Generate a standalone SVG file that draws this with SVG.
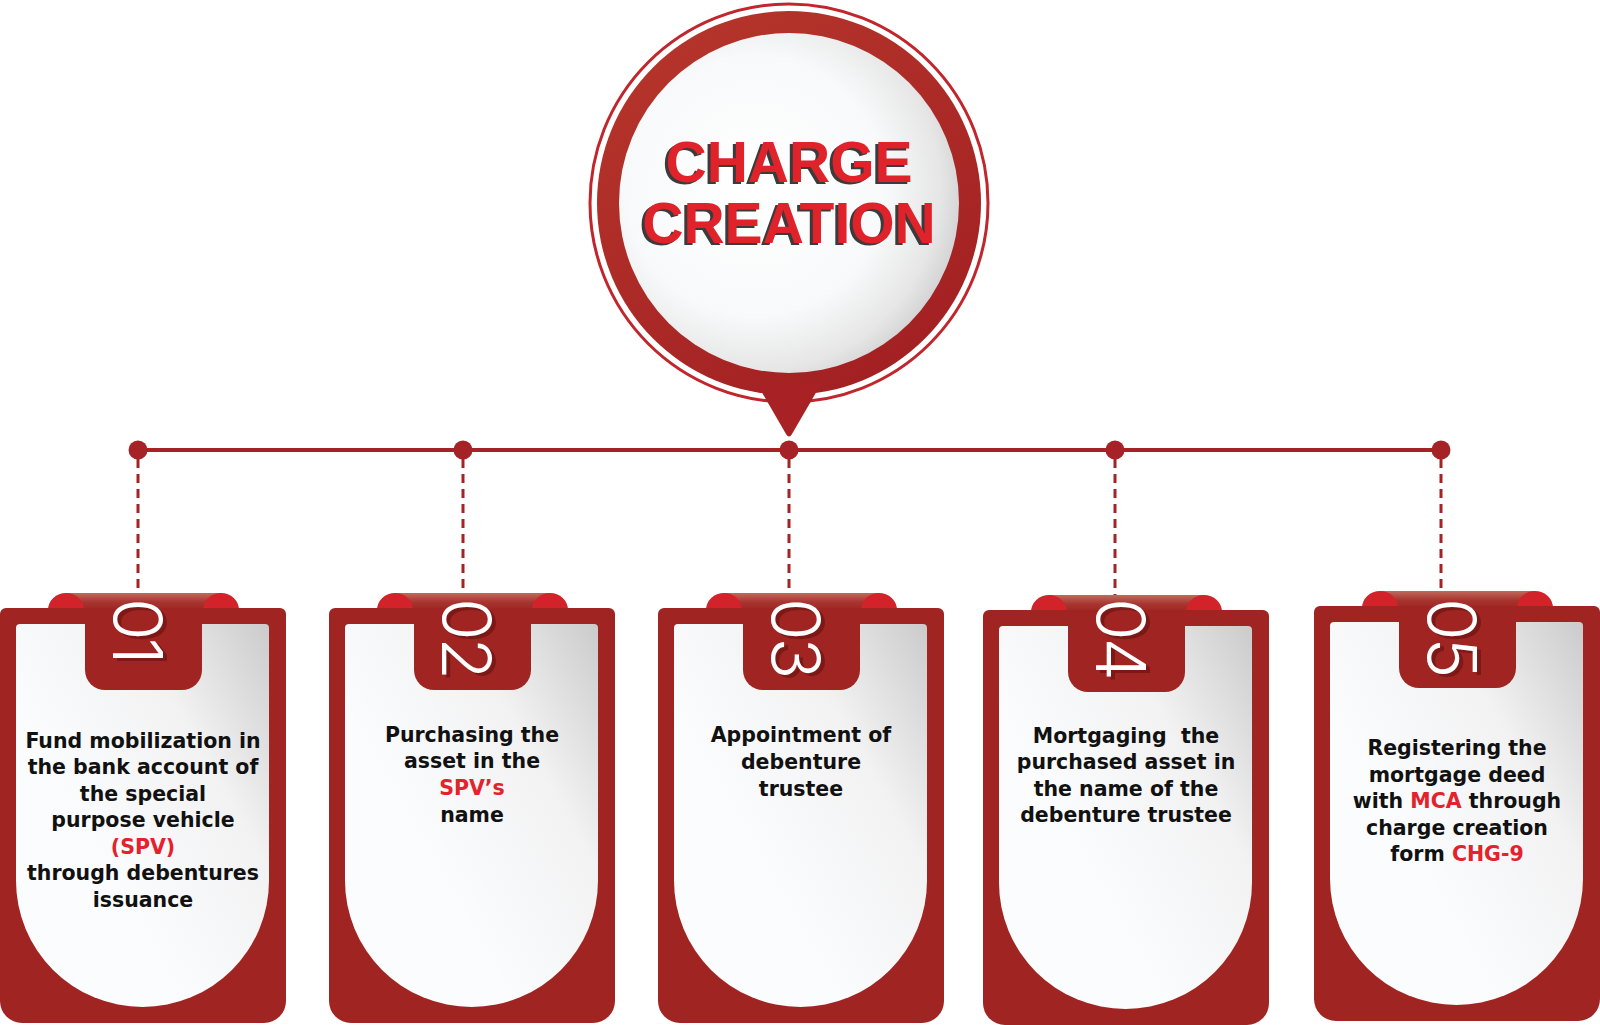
<svg xmlns="http://www.w3.org/2000/svg" width="1600" height="1025" viewBox="0 0 1600 1025">
<defs>
<style>
.body{fill:#a02522}
.bump{fill:#d2232a}
.rib{fill:url(#ribG)}
.panel{fill:url(#panelG)}
.num{font-family:Inter,"Open Sans",Lato,sans-serif;font-weight:300;font-size:69px;letter-spacing:-3px;fill:#ffffff}
.nums{font-family:Inter,"Open Sans",Lato,sans-serif;font-weight:300;font-size:69px;letter-spacing:-3px;fill:#5a0f0d;opacity:.5}
.t{font-family:"DejaVu Sans","Liberation Sans",sans-serif;font-weight:bold;font-size:20.5px;fill:#111111;text-anchor:middle}
.r{fill:#e3222b}
.title{font-family:"Liberation Sans",Arial,sans-serif;font-weight:bold;font-size:57px;text-anchor:middle}
.conn{stroke:#a52327;fill:none}
.dot{fill:#a52327}
</style>
<linearGradient id="ribG" x1="0" y1="0" x2="0" y2="1">
<stop offset="0" stop-color="#c06a5c"/>
<stop offset="0.5" stop-color="#a83530"/>
<stop offset="1" stop-color="#9c2321"/>
</linearGradient>
<linearGradient id="panelG" x1="1" y1="0" x2="0.3" y2="0.6">
<stop offset="0" stop-color="#cbcbcb"/>
<stop offset="0.45" stop-color="#f2f2f3"/>
<stop offset="1" stop-color="#fbfcfd"/>
</linearGradient>
<linearGradient id="ringG" x1="0.2" y1="0" x2="0.8" y2="1">
<stop offset="0" stop-color="#b5352b"/>
<stop offset="1" stop-color="#a21f22"/>
</linearGradient>
<radialGradient id="discG" cx="0.4" cy="0.45" r="0.64">
<stop offset="0" stop-color="#ffffff"/>
<stop offset="0.6" stop-color="#f8f9fa"/>
<stop offset="0.85" stop-color="#e6e6e6"/>
<stop offset="1" stop-color="#cdcdcd"/>
</radialGradient>
<path id="bodyP" d="M6,0 H280 A6,6 0 0 1 286,6 V393 A22,22 0 0 1 264,415 H22 A22,22 0 0 1 0,393 V6 A6,6 0 0 1 6,0 Z"/>
<path id="panelP" d="M20,16 H265 A4,4 0 0 1 269,20 V272.5 A126.5,126.5 0 0 1 16,272.5 V20 A4,4 0 0 1 20,16 Z"/>
<path id="tabP" d="M85,0 H202 V62 A20,20 0 0 1 182,82 H105 A20,20 0 0 1 85,62 Z"/>
<g id="cardBase">
<rect class="rib" x="62" y="-15" width="163" height="18" rx="5"/>
<ellipse class="bump" cx="66" cy="2" rx="18" ry="17"/>
<ellipse class="bump" cx="221" cy="2" rx="18" ry="17"/>
<use href="#bodyP" class="body"/>
<use href="#panelP" class="panel"/>
<use href="#tabP" class="body"/>
</g>
</defs>

<g id="connectors">
<line class="conn" x1="138" y1="450" x2="1441" y2="450" stroke-width="4"/>
<g stroke-width="3" stroke-dasharray="9 6">
<line class="conn" x1="138" y1="459" x2="138" y2="594"/>
<line class="conn" x1="463" y1="459" x2="463" y2="594"/>
<line class="conn" x1="789" y1="459" x2="789" y2="594"/>
<line class="conn" x1="1115" y1="459" x2="1115" y2="596"/>
<line class="conn" x1="1441" y1="459" x2="1441" y2="592"/>
</g>
<circle class="dot" cx="138" cy="450" r="9.5"/>
<circle class="dot" cx="463" cy="450" r="9.5"/>
<circle class="dot" cx="789" cy="450" r="9.5"/>
<circle class="dot" cx="1115" cy="450" r="9.5"/>
<circle class="dot" cx="1441" cy="450" r="9.5"/>
</g>

<g id="center">
<circle cx="789" cy="203" r="199" fill="none" stroke="#c1262c" stroke-width="3"/>
<circle cx="789" cy="203" r="192" fill="url(#ringG)"/>
<path d="M757,384 L821,384 L792,434 Q789,439 786,434 Z" fill="#a82225"/>
<circle cx="789" cy="203" r="170" fill="url(#discG)"/>
<text class="title" x="786" y="184" fill="#3b3b3b">CHARGE</text>
<text class="title" x="789" y="182" fill="#e0232b">CHARGE</text>
<text class="title" x="786" y="245" fill="#3b3b3b">CREATION</text>
<text class="title" x="789" y="243" fill="#e0232b">CREATION</text>
</g>

<g id="card1" transform="translate(0,608)">
<use href="#cardBase"/>
<text class="nums" transform="translate(117,-7) rotate(90)">01</text>
<text class="num" transform="translate(113,-10) rotate(90)">01</text>
<text class="t"><tspan x="143" y="140">Fund mobilization in</tspan><tspan x="143" y="166">the bank account of</tspan><tspan x="143" y="193">the special</tspan><tspan x="143" y="219">purpose vehicle</tspan><tspan x="143" y="246" class="r">(SPV)</tspan><tspan x="143" y="272">through debentures</tspan><tspan x="143" y="299">issuance</tspan></text>
</g>

<g id="card2" transform="translate(329,608)">
<use href="#cardBase"/>
<text class="nums" transform="translate(117,-7) rotate(90)">02</text>
<text class="num" transform="translate(113,-10) rotate(90)">02</text>
<text class="t"><tspan x="143" y="134">Purchasing the</tspan><tspan x="143" y="160">asset in the</tspan><tspan x="143" y="187" class="r">SPV’s</tspan><tspan x="143" y="214">name</tspan></text>
</g>

<g id="card3" transform="translate(658,608)">
<use href="#cardBase"/>
<text class="nums" transform="translate(117,-7) rotate(90)">03</text>
<text class="num" transform="translate(113,-10) rotate(90)">03</text>
<text class="t"><tspan x="143" y="134">Appointment of</tspan><tspan x="143" y="161">debenture</tspan><tspan x="143" y="188">trustee</tspan></text>
</g>

<g id="card4" transform="translate(983,610)">
<use href="#cardBase"/>
<text class="nums" transform="translate(117,-9) rotate(90)">04</text>
<text class="num" transform="translate(113,-12) rotate(90)">04</text>
<text class="t" xml:space="preserve"><tspan x="143" y="133">Mortgaging  the</tspan><tspan x="143" y="159">purchased asset in</tspan><tspan x="143" y="186">the name of the</tspan><tspan x="143" y="212">debenture trustee</tspan></text>
</g>

<g id="card5" transform="translate(1314,606)">
<use href="#cardBase"/>
<text class="nums" transform="translate(117,-5) rotate(90)">05</text>
<text class="num" transform="translate(113,-8) rotate(90)">05</text>
<text class="t"><tspan x="143" y="149">Registering the</tspan><tspan x="143" y="176">mortgage deed</tspan><tspan x="143" y="202">with <tspan class="r">MCA</tspan> through</tspan><tspan x="143" y="229">charge creation</tspan><tspan x="143" y="255">form <tspan class="r">CHG-9</tspan></tspan></text>
</g>
</svg>
